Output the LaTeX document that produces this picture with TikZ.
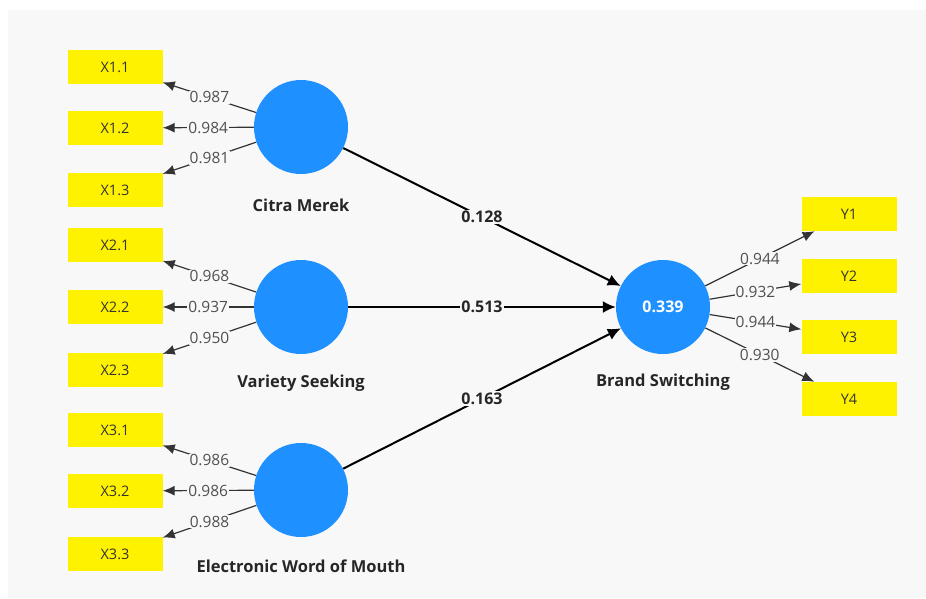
\documentclass[tikz,border=0pt]{standalone}
\usepackage{fontspec}
\setmainfont{Open Sans}
\usetikzlibrary{arrows.meta}
\definecolor{lvblue}{RGB}{30,144,255}
\definecolor{bggrey}{RGB}{248,248,248}
\definecolor{loadgrey}{RGB}{80,80,80}

\begin{document}
\begin{tikzpicture}[x=1pt, y=-1pt,
	latent/.style={circle, fill=lvblue, minimum size=94pt, inner sep=0pt},
	lvname/.style={font=\fontsize{16.5}{18}\selectfont\bfseries, text=black!85},
	indicator/.style={fill=yellow, minimum width=95pt, minimum height=34pt, inner sep=0pt, font=\fontsize{14.5}{16}\selectfont, text=black!80},
	loading/.style={draw=black!80, line width=1.2pt, -{Latex[length=12pt,width=10pt]}},
	coef/.style={draw=black, line width=2pt, -{Latex[length=13pt,width=12pt]}},
	lbl/.style={fill=bggrey, inner sep=1pt, font=\fontsize{15.5}{17}\selectfont, text=loadgrey},
	clbl/.style={fill=bggrey, inner sep=1.5pt, font=\fontsize{16}{18}\selectfont\bfseries, text=black!85}]
	\useasboundingbox (0,0) rectangle (926,598);
	\fill[bggrey] (8,10) rectangle (926,598);

	% latent variables
	\node[latent] (cm) at (301,127) {};
	\node[latent] (vs) at (301,307) {};
	\node[latent] (ewom) at (301,490) {};
	\node[latent, text=white, font=\fontsize{16}{18}\selectfont\bfseries] (bs) at (663,307) {0.339};
	\node[lvname] (cmname) at (301,205) {Citra Merek};
	\node[lvname] (vsname) at (301,383) {Variety Seeking};
	\node[lvname] (ewomname) at (301,566) {Electronic Word of Mouth};
	\node[lvname] (bsname) at (663,382) {Brand Switching};

	% indicators
	\foreach \i/\y in {1/67,2/128,3/190}
		\node[indicator] (x1\i) at (115,\y) {X1.\i};
	\foreach \i/\y in {1/245,2/307,3/370}
		\node[indicator] (x2\i) at (115,\y) {X2.\i};
	\foreach \i/\y in {1/430,2/491,3/554}
		\node[indicator] (x3\i) at (115,\y) {X3.\i};
	\foreach \i/\y in {1/214,2/276,3/337,4/399}
		\node[indicator] (y\i) at (849,\y) {Y\i};

	% outer loadings
	\foreach \i/\v in {1/0.987,2/0.984,3/0.981}
		\draw[loading] (cm) -- node[lbl] {\v} (x1\i);
	\foreach \i/\v in {1/0.968,2/0.937,3/0.950}
		\draw[loading] (vs) -- node[lbl] {\v} (x2\i);
	\foreach \i/\v in {1/0.986,2/0.986,3/0.988}
		\draw[loading] (ewom) -- node[lbl] {\v} (x3\i);
	\foreach \i/\v in {1/0.944,2/0.932,3/0.944,4/0.930}
		\draw[loading] (bs) -- node[lbl] {\v} (y\i);

	% path coefficients
	\draw[coef] (cm) -- node[clbl] {0.128} (bs);
	\draw[coef] (vs) -- node[clbl] {0.513} (bs);
	\draw[coef] (ewom) -- node[clbl] {0.163} (bs);
\end{tikzpicture}
\end{document}
